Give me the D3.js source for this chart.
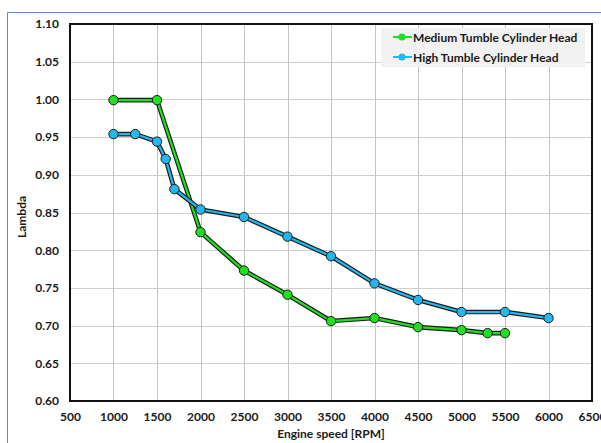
<!DOCTYPE html>
<html>
<head>
<meta charset="utf-8">
<script src="https://cdn.jsdelivr.net/npm/d3@7"></script>
<style>
  html, body { margin: 0; padding: 0; background: #fff; }
  svg { display: block; }
  text { font-family: "Lato", "Open Sans", sans-serif; font-weight: bold; fill: #1a1a1a; }
</style>
</head>
<body>
<svg id="chart" width="601" height="443"></svg>
<script>
// Lambda vs engine speed for two cylinder head designs
const seriesNames = ["Medium Tumble Cylinder Head", "High Tumble Cylinder Head"];
const seriesColors = ["#1fe01f", "#22b8ee"];

const mediumRpm    = [1000, 1500, 2000, 2500, 3000, 3500, 4000, 4500, 5000, 5300, 5500];
const mediumLambda = [0.999, 0.999, 0.824, 0.773, 0.741, 0.706, 0.710, 0.698, 0.694, 0.690, 0.690];

const highRpm    = [1000, 1250, 1500, 1600, 1700, 2000, 2500, 3000, 3500, 4000, 4500, 5000, 5500, 6000];
const highLambda = [0.954, 0.954, 0.944, 0.921, 0.881, 0.854, 0.844, 0.818, 0.792, 0.756, 0.734, 0.718, 0.718, 0.710];

const xTicks = [500, 1000, 1500, 2000, 2500, 3000, 3500, 4000, 4500, 5000, 5500, 6000, 6500];
const yTicks = [0.60, 0.65, 0.70, 0.75, 0.80, 0.85, 0.90, 0.95, 1.00, 1.05, 1.10];

const xTitle = "Engine speed [RPM]";
const yTitle = "Lambda";

const svg = d3.select("#chart");
const W = 601, H = 443;
const m = { left: 70, right: 592, top: 24, bottom: 401 };

// outer chart-area frame
svg.append("path")
  .attr("d", `M7.5,${H + 2} L7.5,12.5 L${W + 2},12.5`)
  .attr("fill", "none").attr("stroke", "#5b8bd0").attr("stroke-width", 1);

const x = d3.scaleLinear().domain([500, 6500]).range([m.left, m.right]);
const y = d3.scaleLinear().domain([0.60, 1.10]).range([m.bottom, m.top]);

// gridlines
const grid = svg.append("g");
grid.selectAll(".vg").data(xTicks.slice(1, -1)).join("line")
  .attr("x1", d => Math.round(x(d)) + 0.5).attr("x2", d => Math.round(x(d)) + 0.5)
  .attr("y1", m.top).attr("y2", m.bottom)
  .attr("stroke", "#c4c4c4").attr("stroke-width", 1);
grid.selectAll(".hg").data(yTicks.slice(1, -1)).join("line")
  .attr("y1", d => Math.round(y(d)) + 0.5).attr("y2", d => Math.round(y(d)) + 0.5)
  .attr("x1", m.left).attr("x2", m.right)
  .attr("stroke", "#cfcfcf").attr("stroke-width", 1);

// axes (labels only, frame drawn separately)
const xAxis = d3.axisBottom(x).tickValues(xTicks).tickSize(0).tickPadding(11).tickFormat(d3.format("d"));
const yAxis = d3.axisLeft(y).tickValues(yTicks).tickSize(0).tickPadding(11).tickFormat(d3.format(".2f"));
const gx = svg.append("g").attr("transform", `translate(0,${m.bottom})`).call(xAxis);
const gy = svg.append("g").attr("transform", `translate(${m.left},0)`).call(yAxis);
[gx, gy].forEach(g => {
  g.select(".domain").remove();
  g.selectAll("text").attr("font-family", null).attr("font-size", 12).attr("fill", "#1a1a1a");
});

// plot frame
svg.append("rect")
  .attr("x", m.left).attr("y", m.top)
  .attr("width", m.right - m.left).attr("height", m.bottom - m.top)
  .attr("fill", "none").attr("stroke", "#111").attr("stroke-width", 2);

// series
const series = [
  { xs: mediumRpm, ys: mediumLambda, color: seriesColors[0] },
  { xs: highRpm, ys: highLambda, color: seriesColors[1] }
];
const line = d3.line().x(d => x(d[0])).y(d => y(d[1]));

series.forEach(s => {
  const pts = s.xs.map((v, i) => [v, s.ys[i]]);
  const g = svg.append("g");
  g.append("path").attr("d", line(pts)).attr("fill", "none")
    .attr("stroke", "#1c1c1c").attr("stroke-width", 4.6).attr("stroke-linejoin", "round");
  g.append("path").attr("d", line(pts)).attr("fill", "none")
    .attr("stroke", s.color).attr("stroke-width", 2.2).attr("stroke-linejoin", "round");
  g.selectAll("circle").data(pts).join("circle")
    .attr("cx", d => x(d[0])).attr("cy", d => y(d[1])).attr("r", 4.7)
    .attr("fill", s.color).attr("stroke", "#1c1c1c").attr("stroke-width", 1);
});

// legend
const lg = svg.append("g");
lg.append("rect").attr("x", 381).attr("y", 28).attr("width", 204).attr("height", 39).attr("fill", "#f2f2f2");
seriesNames.forEach((name, i) => {
  const cy = 37 + i * 20;
  lg.append("line").attr("x1", 393).attr("x2", 412).attr("y1", cy).attr("y2", cy)
    .attr("stroke", seriesColors[i]).attr("stroke-width", 2);
  lg.append("circle").attr("cx", 402).attr("cy", cy).attr("r", 3.6).attr("fill", seriesColors[i]);
  lg.append("text").attr("x", 413).attr("y", cy + 4.5).attr("font-size", 12).text(name);
});

// axis titles
svg.append("text").attr("x", (m.left + m.right) / 2).attr("y", 438)
  .attr("text-anchor", "middle").attr("font-size", 12).text(xTitle);
svg.append("text").attr("transform", "translate(26,217) rotate(-90)")
  .attr("text-anchor", "middle").attr("font-size", 12).text(yTitle);
</script>
</body>
</html>
